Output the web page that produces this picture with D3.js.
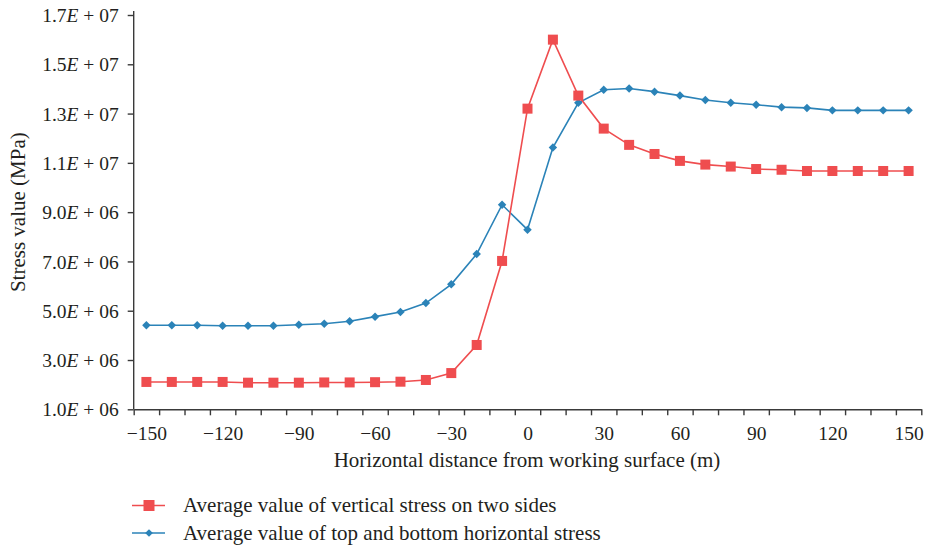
<!DOCTYPE html>
<html><head><meta charset="utf-8">
<script src="https://cdn.jsdelivr.net/npm/d3@7"></script>
<style>
html,body{margin:0;padding:0;background:#fff;}
svg text{font-family:"Liberation Serif","Times New Roman",serif;fill:#231f20;}
</style></head>
<body><svg id="c" width="926" height="546"></svg>
<script>
const distances = [-150,-140,-130,-120,-110,-100,-90,-80,-70,-60,-50,-40,-30,-20,-10,0,10,20,30,40,50,60,70,80,90,100,110,120,130,140,150];
const verticalStress = [2.11e6,2.11e6,2.11e6,2.11e6,2.08e6,2.08e6,2.08e6,2.09e6,2.09e6,2.10e6,2.12e6,2.19e6,2.47e6,3.61e6,7.02e6,1.32e7,1.60e7,1.373e7,1.239e7,1.173e7,1.136e7,1.108e7,1.093e7,1.085e7,1.075e7,1.072e7,1.067e7,1.067e7,1.067e7,1.067e7,1.067e7];
const horizontalStress = [4.41e6,4.41e6,4.41e6,4.39e6,4.39e6,4.39e6,4.43e6,4.47e6,4.57e6,4.76e6,4.95e6,5.31e6,6.07e6,7.30e6,9.30e6,8.29e6,1.162e7,1.344e7,1.397e7,1.402e7,1.389e7,1.373e7,1.355e7,1.344e7,1.336e7,1.326e7,1.323e7,1.313e7,1.313e7,1.313e7,1.313e7];
const yTicks = [1e6,3e6,5e6,7e6,9e6,1.1e7,1.3e7,1.5e7,1.7e7];
const xLabels = [-150,-120,-90,-60,-30,0,30,60,90,120,150];
const seriesNames = ["Average value of vertical stress on two sides","Average value of top and bottom horizontal stress"];
const colors = ["#ef4d4f","#2b83b8"];

const svg = d3.select("#c");
const L = 133.7, R = 921.3, T = 15, B = 409.3;
const x = d3.scaleLinear().domain([-155,155]).range([L,R]);
const y = d3.scaleLinear().domain([1e6,1.7e7]).range([B,T]);
const axisColor = "#3a3a3a";
const fsTick = 19.5, fsTitle = 21;

// X axis ticks (category boundaries)
const boundaries = d3.range(-155,156,10);
const gx = svg.append("g").attr("transform",`translate(0,${B})`)
  .call(d3.axisBottom(x).tickValues(boundaries).tickSize(6).tickFormat("").tickSizeOuter(0));
gx.selectAll("path,line").attr("stroke",axisColor).attr("stroke-width",1.4);
const gxl = svg.append("g").attr("transform",`translate(0,${B})`)
  .call(d3.axisBottom(x).tickValues(xLabels).tickSize(0).tickPadding(17)
    .tickFormat(d => d < 0 ? "\u2212" + Math.abs(d) : String(d)));
gxl.select(".domain").remove();
gxl.selectAll("text").attr("font-size",fsTick).attr("font-family","Liberation Serif").attr("fill","#231f20");

// Y axis
const gy = svg.append("g").attr("transform",`translate(${L},0)`)
  .call(d3.axisLeft(y).tickValues(yTicks).tickSize(6).tickSizeOuter(0).tickFormat(""));
gy.selectAll("path,line").attr("stroke",axisColor).attr("stroke-width",1.4);
gy.select(".domain").attr("d",`M0,${T-4}V${B}`);
gy.selectAll(".tick").each(function(d){
  const t = d3.select(this).append("text").attr("x",-15).attr("dy","0.34em")
    .attr("text-anchor","end").attr("font-size",fsTick).attr("fill","#231f20");
  const e = Math.floor(Math.log10(d));
  const m = d / Math.pow(10,e);
  t.append("tspan").text(m.toFixed(1));
  t.append("tspan").attr("font-style","italic").text("E");
  t.append("tspan").text(" + " + String(e).padStart(2,"0"));
});

// Titles
svg.append("text").attr("transform",`translate(25,${(T+B)/2}) rotate(-90)`)
  .attr("text-anchor","middle").attr("font-size",21).text("Stress value (MPa)");
svg.append("text").attr("x",527).attr("y",467).attr("text-anchor","middle")
  .attr("font-size",fsTitle).text("Horizontal distance from working surface (m)");

// Lines
const line = d3.line().x((d,i)=>x(distances[i])).y(d=>y(d));

svg.append("path").datum(horizontalStress).attr("d",line).attr("fill","none")
  .attr("stroke",colors[1]).attr("stroke-width",1.6);
svg.append("g").selectAll("path").data(horizontalStress).join("path")
  .attr("d",d3.symbol().type(d3.symbolSquare).size(36)).attr("fill",colors[1])
  .attr("transform",(d,i)=>`translate(${x(distances[i])},${y(d)}) rotate(45)`);

svg.append("path").datum(verticalStress).attr("d",line).attr("fill","none")
  .attr("stroke",colors[0]).attr("stroke-width",1.6);
svg.append("g").selectAll("rect").data(verticalStress).join("rect")
  .attr("x",(d,i)=>x(distances[i])-5).attr("y",d=>y(d)-5)
  .attr("width",10).attr("height",10).attr("fill",colors[0]);

// Legend
const lg = svg.append("g");
[0,1].forEach(k=>{
  const ly = k===0 ? 505.5 : 533;
  lg.append("line").attr("x1",132).attr("x2",165).attr("y1",ly).attr("y2",ly)
    .attr("stroke",colors[k]).attr("stroke-width",1.6);
  if(k===0){
    lg.append("rect").attr("x",143.5).attr("y",ly-5.5).attr("width",11).attr("height",11).attr("fill",colors[0]);
  } else {
    lg.append("path").attr("transform",`translate(149,${ly}) rotate(45)`)
      .attr("d",d3.symbol().type(d3.symbolSquare).size(30)).attr("fill",colors[1]);
  }
  lg.append("text").attr("x",183).attr("y",ly).attr("dy","0.33em").attr("font-size",fsTitle).text(seriesNames[k]);
});
</script></body></html>
